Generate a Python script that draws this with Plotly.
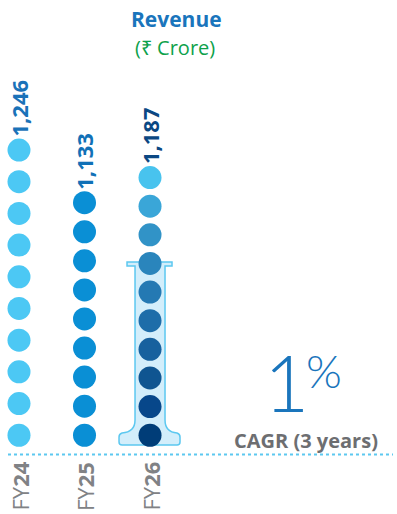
import numpy as np
import plotly.graph_objects as go

# Revenue by fiscal year (₹ Crore)
years = ["24", "25", "26"]
revenue = [1246, 1133, 1187]
dots_per_year = [10, 9, 10]
cagr_pct = 1
cagr_label = "CAGR (3 years)"

# canvas and axis set-up (pixel <-> axis unit helpers)
W, H = 397, 514
X0, X1 = -0.29, 5.77
Y0, Y1 = 465, 1568
STACK_BASE = 634  # value at which each dot stack starts


def ux(px):
    return X0 + px * (X1 - X0) / W


def dux(px):
    return px * (X1 - X0) / W


def uy(py):
    return Y1 - py * (Y1 - Y0) / H


col_colors = [
    ["#4CC8F4"] * 10,
    ["#0A8FD5"] * 9,
    ["#003D78", "#07478A", "#0F5591", "#17619E", "#1E6DA9",
     "#2479B3", "#2A85BC", "#3193C7", "#3AA6D8", "#48C3EE"],
]
label_colors = ["#1A72B8", "#1171B7", "#0B4883"]

fig = go.Figure()

for i, (v, n) in enumerate(zip(revenue, dots_per_year)):
    ys = np.linspace(STACK_BASE, v, n)
    fig.add_trace(go.Scatter(
        x=[i] * n, y=ys, mode="markers",
        marker=dict(size=23, color=col_colors[i], line=dict(width=0)),
        hoverinfo="skip", showlegend=False,
    ))
    fig.add_annotation(
        x=i, y=v, xref="x", yref="y", text=f"<b>{v:,}</b>",
        textangle=-90, showarrow=False, yanchor="bottom", xanchor="center",
        yshift=11, font=dict(family="Open Sans", size=22, color=label_colors[i]),
    )
    fig.add_annotation(
        x=i, y=uy(460), xref="x", yref="y", text=f"FY<b>{years[i]}</b>",
        textangle=-90, showarrow=False, yanchor="top", xanchor="center",
        font=dict(family="Open Sans", size=22, color="#808285"),
    )

# test-tube outline around the latest year's stack
cx = 2
tube_px = [
    ("M", [(127, 262)]), ("L", [(172, 262)]), ("L", [(172, 266)]), ("L", [(165, 266)]),
    ("L", [(165, 420)]), ("Q", [(165, 432), (177, 433)]), ("Q", [(180, 434), (180, 437)]),
    ("L", [(180, 442)]), ("Q", [(180, 445), (177, 445)]), ("L", [(122, 445)]),
    ("Q", [(119, 445), (119, 442)]), ("L", [(119, 437)]), ("Q", [(119, 434), (122, 433)]),
    ("Q", [(135, 432), (135, 420)]), ("L", [(135, 266)]), ("L", [(127, 266)]),
]
path = ""
for cmd, pts in tube_px:
    coords = " ".join(f"{cx + dux(px - 150):.4f},{uy(py):.2f}" for px, py in pts)
    path += f"{cmd} {coords} "
path += "Z"
fig.add_shape(type="path", path=path, xref="x", yref="y", layer="below",
              fillcolor="#D3EEFB", line=dict(color="#5CC8F0", width=1.5))

# dotted baseline
fig.add_shape(type="line", xref="x", yref="y", x0=ux(8), x1=ux(393),
              y0=uy(454.5), y1=uy(454.5), layer="below",
              line=dict(color="#5CC8F0", width=2, dash="dot"))


def paper_text(px, py, text, font):
    fig.add_annotation(x=px / W, y=1 - py / H, xref="paper", yref="paper",
                       xanchor="center", yanchor="middle", text=text,
                       showarrow=False, font=font)


# title
paper_text(176, 19, "<b>Revenue</b>",
           dict(family="Open Sans", size=21, color="#1A75BC"))
paper_text(175, 47, "(₹ Crore)",
           dict(family="Open Sans", size=20, color="#0DA14B"))

# CAGR callout
paper_text(286, 382, f"{cagr_pct}",
           dict(family="Lato", size=78, color="#1A75BC", weight=300))
paper_text(324, 370, "%",
           dict(family="Lato", size=46, color="#1A75BC", weight=300))
paper_text(306, 440, f"<b>{cagr_label}</b>",
           dict(family="Open Sans", size=20, color="#6D6E71"))

fig.update_layout(
    width=W, height=H, margin=dict(l=0, r=0, t=0, b=0),
    paper_bgcolor="white", plot_bgcolor="white",
    xaxis=dict(range=[X0, X1], visible=False, fixedrange=True),
    yaxis=dict(range=[Y0, Y1], visible=False, fixedrange=True),
)

fig.write_html("out.html")
